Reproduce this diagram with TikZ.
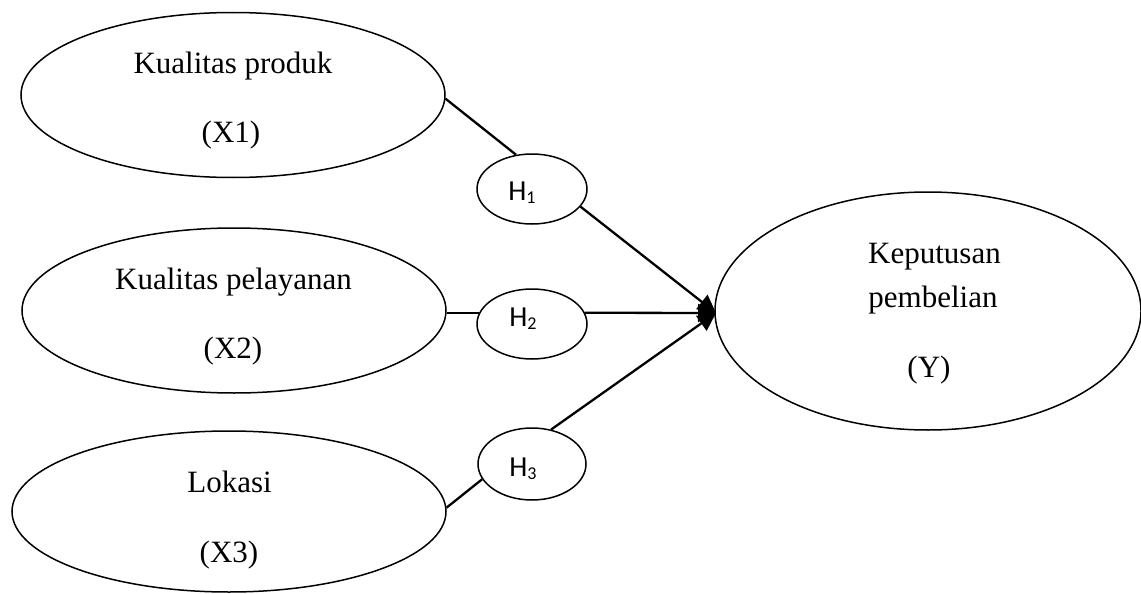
\documentclass[tikz,border=0pt]{standalone}
\usepackage{fontspec}
\setmainfont{Liberation Serif}
\newfontfamily\hfont{Carlito}
\usetikzlibrary{shapes.geometric,arrows.meta}
\newcommand{\hsub}[1]{H\raisebox{-3pt}{\fontsize{18}{18}\selectfont #1}}
\begin{document}
\begin{tikzpicture}[x=1pt,y=-1pt,
  var/.style={ellipse,draw,line width=1.5pt,inner sep=0pt},
  hyp/.style={ellipse,draw,line width=1.5pt,inner sep=0pt},
  lbl/.style={anchor=base,inner sep=0pt,font=\fontsize{31}{37}\selectfont},
  hl/.style={anchor=base,inner sep=0pt,font=\hfont\fontsize{29}{33}\selectfont},
  conn/.style={line width=2.3pt},
  arr/.style={conn,-{Triangle[length=18pt,width=18pt]}}]
\useasboundingbox (0,0) rectangle (1141,594);

% variable ellipses
\node[var,minimum width=424pt,minimum height=165pt] (x1) at (233,95) {};
\node[var,minimum width=424pt,minimum height=165pt] (x2) at (234,310.5) {};
\node[var,minimum width=434pt,minimum height=161pt] (x3) at (229,511.5) {};
\node[var,minimum width=426pt,minimum height=238pt] (y) at (928,311) {};

% hypothesis ellipses
\node[hyp,minimum width=110pt,minimum height=70pt] (h1) at (532,189) {};
\node[hyp,minimum width=110pt,minimum height=70pt] (h2) at (532,324) {};
\node[hyp,minimum width=108pt,minimum height=72pt] (h3) at (532,464) {};

% texts
\node[lbl] (t1a) at (233,74) {Kualitas produk};
\node[lbl] (t1b) at (231,142) {(X1)};
\node[lbl] (t2a) at (233.5,289) {Kualitas pelayanan};
\node[lbl] (t2b) at (233,358) {(X2)};
\node[lbl] (t3a) at (229.5,492) {Lokasi};
\node[lbl] (t3b) at (229,562) {(X3)};
\node[lbl] (tya) at (934.5,263) {Keputusan};
\node[lbl] (tyb) at (933,307) {pembelian};
\node[lbl] (tyc) at (929,377) {(Y)};

\node[hl] (l1) at (522,200) {\hsub{1}};
\node[hl] (l2) at (523,326) {\hsub{2}};
\node[hl] (l3) at (523,476) {\hsub{3}};

\coordinate (tip) at (716,313);

% connectors
\draw[conn] (x1.-1.4) -- (h1.115);
\draw[arr] (h1.-20) -- (tip);
\draw[conn] (h2.168 -| x2.east) -- (h2.168);
\draw[arr] (h2.12) -- (tip);
\draw[conn] (x3.1.6) -- (h3.197);
\draw[arr] (h3.61) -- (tip);
\end{tikzpicture}
\end{document}
